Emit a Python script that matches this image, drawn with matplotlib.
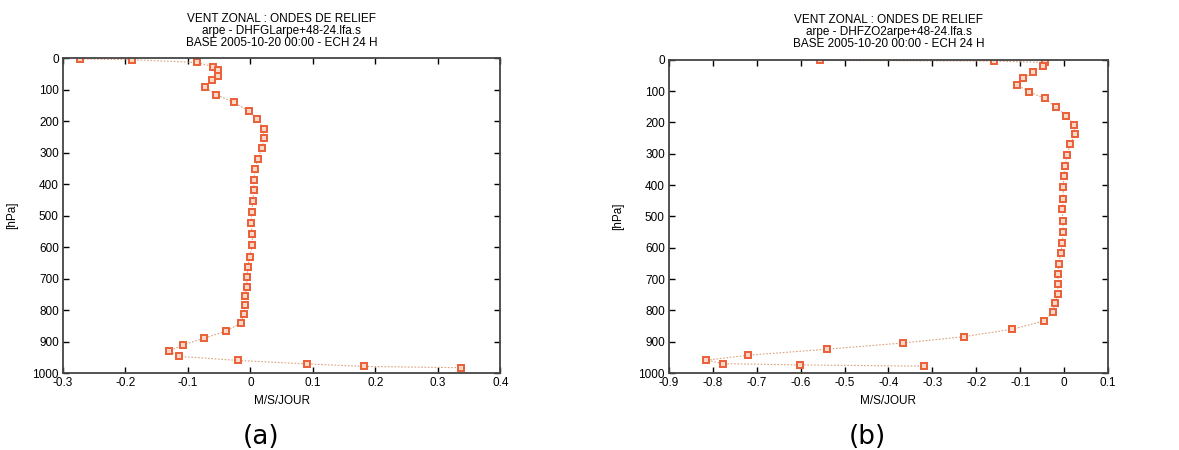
import matplotlib.pyplot as plt

plt.rcParams["font.family"] = ["Liberation Sans", "DejaVu Sans"]

# panel (a) : DHFGL
lev_a = [3, 5, 14, 27, 39, 56, 71, 92, 116, 141, 168, 194, 224, 253, 285, 319,
         353, 387, 420, 455, 490, 525, 560, 595, 630, 663, 695, 726, 756, 785,
         813, 841, 867, 890, 911, 930, 947, 960, 971, 979, 983]
u_a = [-0.272, -0.190, -0.086, -0.060, -0.052, -0.052, -0.061, -0.073, -0.055,
       -0.026, -0.003, 0.011, 0.021, 0.021, 0.019, 0.012, 0.007, 0.006, 0.005,
       0.004, 0.002, 0.001, 0.003, 0.003, -0.001, -0.004, -0.005, -0.006,
       -0.008, -0.009, -0.011, -0.015, -0.039, -0.075, -0.108, -0.130, -0.115,
       -0.020, 0.091, 0.182, 0.337]

# panel (b) : DHFZO2
lev_b = [2, 4, 8, 21, 40, 59, 80, 102, 123, 151, 179, 209, 238, 270, 303, 338,
         372, 407, 443, 477, 513, 549, 584, 618, 652, 684, 716, 747, 777, 805,
         834, 860, 884, 904, 924, 943, 959, 970, 974, 978]
u_b = [-0.557, -0.160, -0.044, -0.048, -0.071, -0.093, -0.107, -0.080, -0.044,
       -0.019, 0.005, 0.023, 0.024, 0.014, 0.007, 0.002, -0.001, -0.002, -0.002,
       -0.004, -0.003, -0.002, -0.004, -0.008, -0.012, -0.014, -0.014, -0.015,
       -0.021, -0.025, -0.046, -0.118, -0.229, -0.367, -0.541, -0.719, -0.815,
       -0.777, -0.602, -0.319]

panels = [
    dict(lev=lev_a, u=u_a, xlim=(-0.3, 0.4),
         xticks=[-0.3, -0.2, -0.1, 0, 0.1, 0.2, 0.3, 0.4],
         title="VENT ZONAL : ONDES DE RELIEF\narpe - DHFGLarpe+48-24.lfa.s\nBASE 2005-10-20 00:00 - ECH 24 H",
         tag="(a)", rect=[0.0534, 0.171, 0.371, 0.700], tagx=0.2214),
    dict(lev=lev_b, u=u_b, xlim=(-0.9, 0.1),
         xticks=[-0.9, -0.8, -0.7, -0.6, -0.5, -0.4, -0.3, -0.2, -0.1, 0, 0.1],
         title="VENT ZONAL : ONDES DE RELIEF\narpe - DHFZO2arpe+48-24.lfa.s\nBASE 2005-10-20 00:00 - ECH 24 H",
         tag="(b)", rect=[0.5674, 0.171, 0.3724, 0.696], tagx=0.736),
]

fig = plt.figure(figsize=(11.79, 4.5), dpi=100)

for p in panels:
    ax = fig.add_axes(p["rect"])
    ax.plot(p["u"], p["lev"], color="#dca27e", lw=0.8, ls=(0, (1.5, 1.5)),
            marker="s", ms=5, mfc="#fbd9c8", mec="#ea5f38", mew=1.4)
    ax.set_xlim(*p["xlim"])
    ax.set_ylim(1000, 0)
    ax.set_xticks(p["xticks"])
    ax.set_xticklabels(["%g" % t for t in p["xticks"]])
    ax.set_yticks(range(0, 1001, 100))
    ax.tick_params(direction="in", top=True, right=True, length=4,
                   width=1, labelsize=8.5, pad=3)
    for s in ax.spines.values():
        s.set_linewidth(1.3)
        s.set_color("#444444")
    ax.set_xlabel("M/S/JOUR", fontsize=8.5, labelpad=4)
    ax.set_ylabel("[hPa]", fontsize=8.5, labelpad=10)
    ax.set_title(p["title"], fontsize=8.5, linespacing=1.0, pad=9)
    fig.text(p["tagx"], 0.0, p["tag"], fontsize=19, ha="center", va="bottom",
             family="DejaVu Sans")

fig.savefig("out.png", dpi=100)
